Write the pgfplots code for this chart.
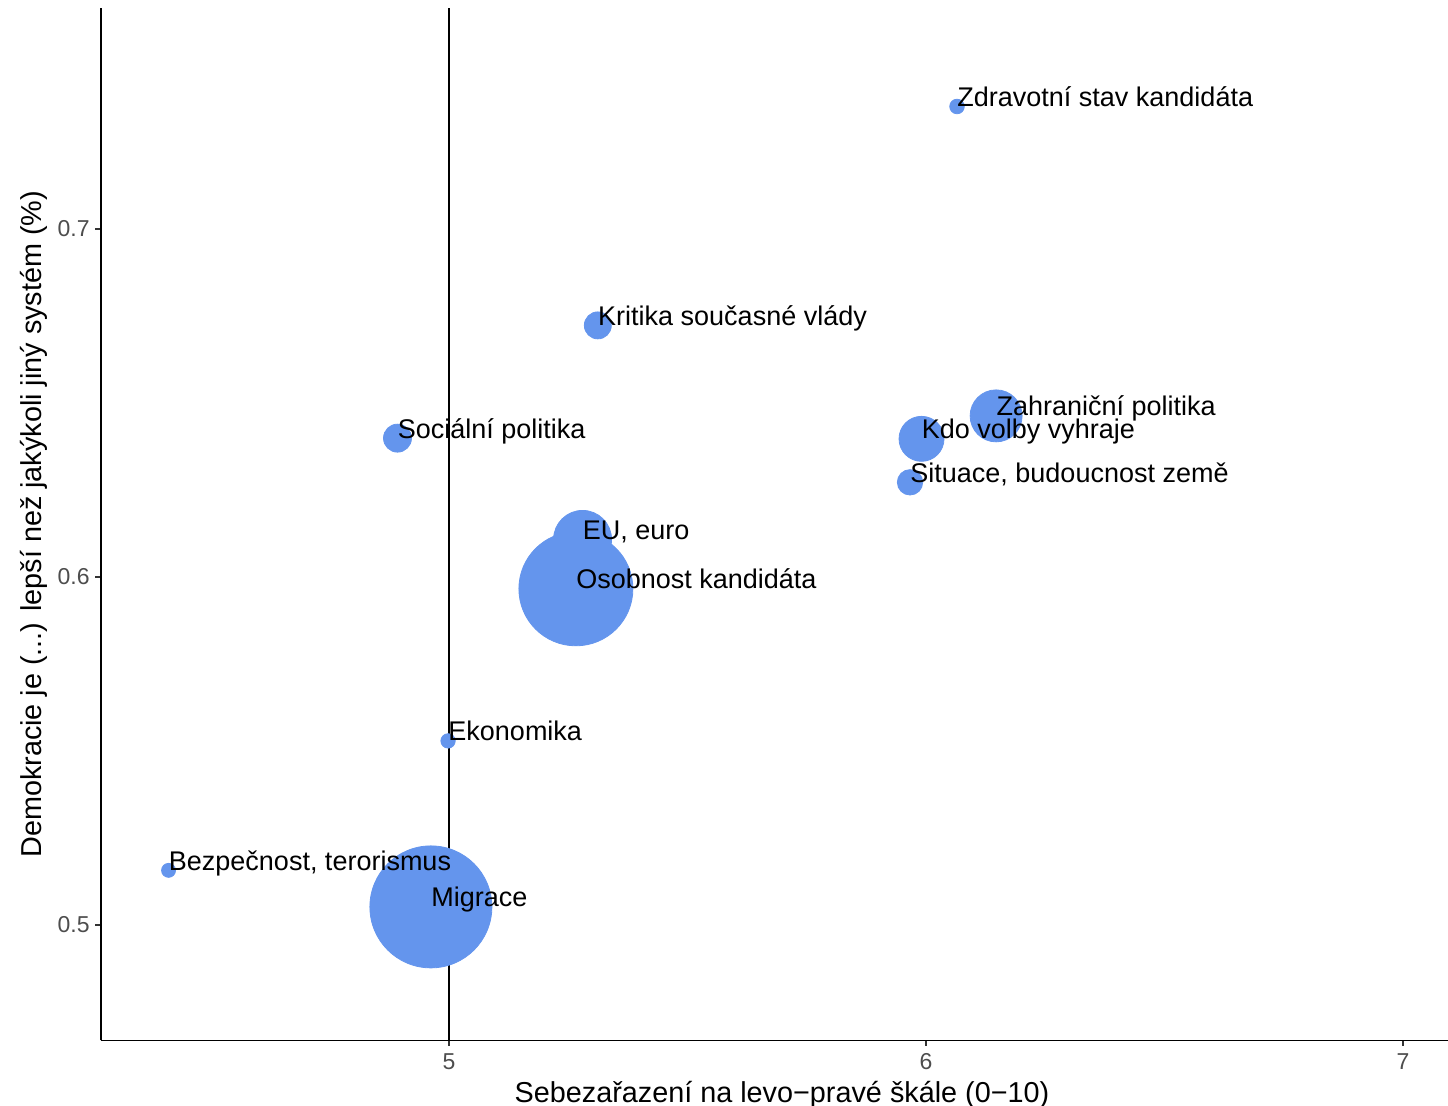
\documentclass[border=0pt]{standalone}
\usepackage{fontspec}
\setmainfont{Liberation Sans}
\usepackage{pgfplots}
\usepackage{pgfplotstable}
\pgfplotsset{compat=1.18}

\definecolor{cb}{HTML}{6495ED}
\definecolor{tickgray}{HTML}{4D4D4D}

% x, y, bubble radius (pt), label
\pgfplotstableread{
x      y       r     lab
6.065  0.7352  3.65  {Zdravotní stav kandidáta}
5.312  0.6723  6.75  {Kritika současné vlády}
4.892  0.6399  7.0   {Sociální politika}
6.147  0.6463  13.0  {Zahraniční politika}
5.9906 0.6397  11.25 {Kdo volby vyhraje}
5.9665 0.6272  6.35  {Situace, budoucnost země}
5.280  0.6108  14.5  {EU, euro}
5.266  0.5966  28.5  {Osobnost kandidáta}
4.998  0.5529  3.6   {Ekonomika}
4.412  0.5157  3.5   {Bezpečnost, terorismus}
4.962  0.5052  30.5  {Migrace}
}\topics

\begin{document}
\begin{tikzpicture}
\begin{axis}[
    name=ax,
    at={(0,0)}, anchor=south west,
    scale only axis,
    width=681pt, height=516.25pt,
    xmin=4.2704, xmax=7.1258,
    ymin=0.46681, ymax=0.76351,
    axis lines=left,
    axis line style={-, line width=0.9pt, black},
    xtick={5,6,7}, ytick={0.5,0.6,0.7},
    minor tick num=0,
    tick align=outside,
    major tick length=2.75pt,
    tick style={line width=0.9pt, color=black!80},
    /pgf/number format/assume math mode=true,
    xticklabel style={font=\fontsize{11.5}{13}\selectfont, text=tickgray, anchor=north, inner sep=0pt, yshift=-3.5pt},
    yticklabel style={font=\fontsize{11.5}{13}\selectfont, text=tickgray, anchor=east, inner sep=0pt, xshift=-2.75pt},
    xlabel={Sebezařazení na levo−pravé škále (0−10)},
    ylabel={Demokracie je (...) lepší než jakýkoli jiný systém (\%)},
    xlabel style={at={(rel axis cs:0.5,0)}, anchor=base, inner sep=0pt, yshift=-31.25pt, font=\fontsize{14.4}{16}\selectfont},
    ylabel style={at={(rel axis cs:0,0.5)}, anchor=base, inner sep=0pt, yshift=29.5pt, font=\fontsize{14.4}{16}\selectfont},
]
\addplot[
    scatter, only marks, mark=*,
    scatter/use mapped color={draw=cb, fill=cb},
    visualization depends on={\thisrow{r} \as \bubr},
    scatter/@pre marker code/.append style={/tikz/mark size=\bubr},
] table[x=x, y=y] {\topics};

\addplot[black, line width=0.9pt] coordinates {(5,0.46681) (5,0.76351)};

\addplot[
    only marks, mark=none,
    point meta=explicit symbolic,
    nodes near coords,
    nodes near coords align={anchor=base west},
    every node near coord/.append style={anchor=base west, inner sep=0pt, font=\fontsize{13.5}{16}\selectfont, text=black},
] table[x=x, y=y, meta=lab] {\topics};
\end{axis}
\pgfresetboundingbox
\path[use as bounding box] (-50.5pt,-32.75pt) rectangle (673.5pt,520.25pt);
\end{tikzpicture}
\end{document}
